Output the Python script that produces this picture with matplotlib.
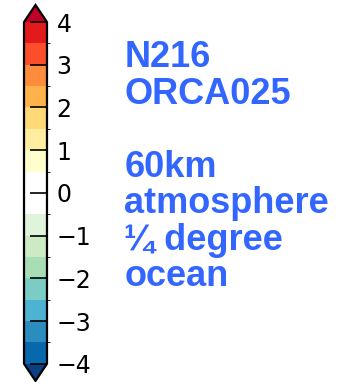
#import libraries
import matplotlib
matplotlib.use('Agg')
import matplotlib.pyplot as plt
from matplotlib.colors import ListedColormap, BoundaryNorm
from matplotlib.colorbar import ColorbarBase

#colour levels and colours of the bar (bottom to top)
levels = [-4, -3.5, -3, -2.5, -2, -1.5, -1, -0.5, 0, 0.5, 1, 1.5, 2, 2.5, 3, 3.5, 4]
colors = ['#0868ac', '#2b8cbe', '#4eb3d3', '#7bccc4', '#a8ddb5', '#ccebc5', '#e0f3db', '#ffffff',
          '#ffffff', '#ffffcc', '#ffeda0', '#fed976', '#feb24c', '#fd8d3c', '#fc4e2a', '#e31a1c']
under_color = '#084081'
over_color = '#c00026'
ticks = [-4, -3, -2, -1, 0, 1, 2, 3, 4]

#text block to the right of the bar
text_lines = ['N216', 'ORCA025', '', '60km', 'atmosphere', '\u00bc degree', 'ocean']
text_color = '#3366ff'

fig = plt.figure(figsize=(3.48, 3.82), dpi=100)

#colorbar axes
cax = fig.add_axes([0.069, 0.003, 0.066, 0.984])
cmap = ListedColormap(colors)
cmap.set_under(under_color)
cmap.set_over(over_color)
norm = BoundaryNorm(levels, cmap.N)
cb = ColorbarBase(cax, cmap=cmap, norm=norm, boundaries=levels,
                  extend='both', ticks=ticks, spacing='uniform')
cb.outline.set_linewidth(1.6)
cax.tick_params(direction='in', length=12, width=1.2, labelsize=17, pad=7,
                right=True, left=False, colors='black')
cax.set_yticklabels([f'{t}'.replace('-', '\u2212') for t in ticks])

#text, one line at a time
y = 1 - 67 / 382
step = 36.5 / 382
for line in text_lines:
    if line:
        fig.text(0.357, y, line, color=text_color, fontsize=26, fontweight='bold',
                 family='Liberation Sans', va='baseline', ha='left')
    y -= step

plt.savefig('out.png', dpi=100)
